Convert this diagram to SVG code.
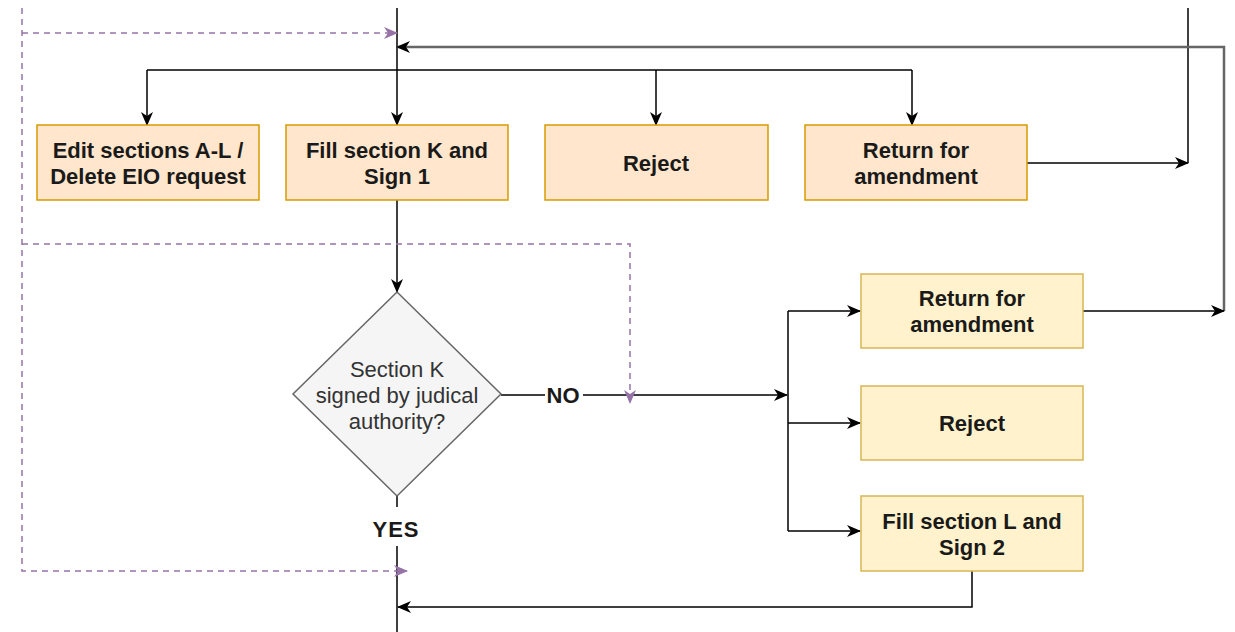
<svg xmlns="http://www.w3.org/2000/svg" width="1235" height="632" viewBox="0 0 1235 632">
<style>
.peach{fill:#ffe6cc;stroke:#d79b00;stroke-width:1.5}
.yel{fill:#fff2cc;stroke:#d6b656;stroke-width:1.5}
.t{font-family:"Liberation Sans",Arial,sans-serif;font-size:22px;font-weight:bold;fill:#1a1a1a;text-anchor:middle}
.dt{font-family:"Liberation Sans",Arial,sans-serif;font-size:22px;fill:#333;text-anchor:middle}
.ln{fill:none;stroke:#000;stroke-width:1.5}
.gr{fill:none;stroke:#666;stroke-width:2.5}
.ds{fill:none;stroke:#9673a6;stroke-width:1.5;stroke-dasharray:6 5}
</style>
<defs>
<marker id="a" markerWidth="14" markerHeight="12" refX="13" refY="6" orient="auto" markerUnits="userSpaceOnUse">
<path d="M0,0 L14,6 L0,12 L4,6 Z" fill="#000"/>
</marker>
<marker id="p" markerWidth="14" markerHeight="12" refX="13" refY="6" orient="auto" markerUnits="userSpaceOnUse">
<path d="M0,0 L14,6 L0,12 L4,6 Z" fill="#9673a6"/>
</marker>
</defs>
<g id="connectors">
<path class="ln" d="M397,8 V125" marker-end="url(#a)"/>
<path class="ln" d="M147,70 H912"/>
<path class="ln" d="M147,70 V125" marker-end="url(#a)"/>
<path class="ln" d="M656,70 V125" marker-end="url(#a)"/>
<path class="ln" d="M912,70 V125" marker-end="url(#a)"/>
<path class="ln" d="M1188,8 V163"/>
<path class="ln" d="M1027,163 H1188" marker-end="url(#a)"/>
<path class="gr" d="M1224,311 V47 H397" marker-end="url(#a)"/>
<path class="ln" d="M397,200 V292" marker-end="url(#a)"/>
<path class="ln" d="M501,395 H545 M583,395 H787" marker-end="url(#a)"/>
<path class="ln" d="M788,311 V531"/>
<path class="ln" d="M788,311 H860" marker-end="url(#a)"/>
<path class="ln" d="M788,423 H860" marker-end="url(#a)"/>
<path class="ln" d="M788,531 H860" marker-end="url(#a)"/>
<path class="ln" d="M1083,311 H1224" marker-end="url(#a)"/>
<path class="ln" d="M397,496 V507 M397,546 V632"/>
<path class="ln" d="M972,571 V607 H398" marker-end="url(#a)"/>
<path class="ds" d="M22,8 V571 H407" marker-end="url(#p)"/>
<path class="ds" d="M22,33 H397" marker-end="url(#p)"/>
<path class="ds" d="M22,244 H630 V403" marker-end="url(#p)"/>
<text class="t" x="563" y="403">NO</text>
<text class="t" x="396" y="537" letter-spacing="1">YES</text>
</g>
<g id="n1"><rect class="peach" x="37" y="125" width="222" height="75"/><text class="t" x="148" y="158">Edit sections A-L /</text><text class="t" x="148" y="184">Delete EIO request</text></g>
<g id="n2"><rect class="peach" x="286" y="125" width="222" height="75"/><text class="t" x="397" y="158">Fill section K and</text><text class="t" x="397" y="184">Sign 1</text></g>
<g id="n3"><rect class="peach" x="545" y="125" width="223" height="75"/><text class="t" x="656" y="171">Reject</text></g>
<g id="n4"><rect class="peach" x="805" y="125" width="222" height="75"/><text class="t" x="916" y="158">Return for</text><text class="t" x="916" y="184">amendment</text></g>
<g id="d1"><path d="M397,292 L501,394 L397,496 L293,394 Z" fill="#f5f5f5" stroke="#666" stroke-width="1.5"/><text class="dt" x="397" y="377">Section K</text><text class="dt" x="397" y="403">signed by judical</text><text class="dt" x="397" y="429">authority?</text></g>
<g id="y1"><rect class="yel" x="861" y="274" width="222" height="74"/><text class="t" x="972" y="306">Return for</text><text class="t" x="972" y="332">amendment</text></g>
<g id="y2"><rect class="yel" x="861" y="386" width="222" height="74"/><text class="t" x="972" y="431">Reject</text></g>
<g id="y3"><rect class="yel" x="861" y="496" width="222" height="75"/><text class="t" x="972" y="529">Fill section L and</text><text class="t" x="972" y="555">Sign 2</text></g>
</svg>
